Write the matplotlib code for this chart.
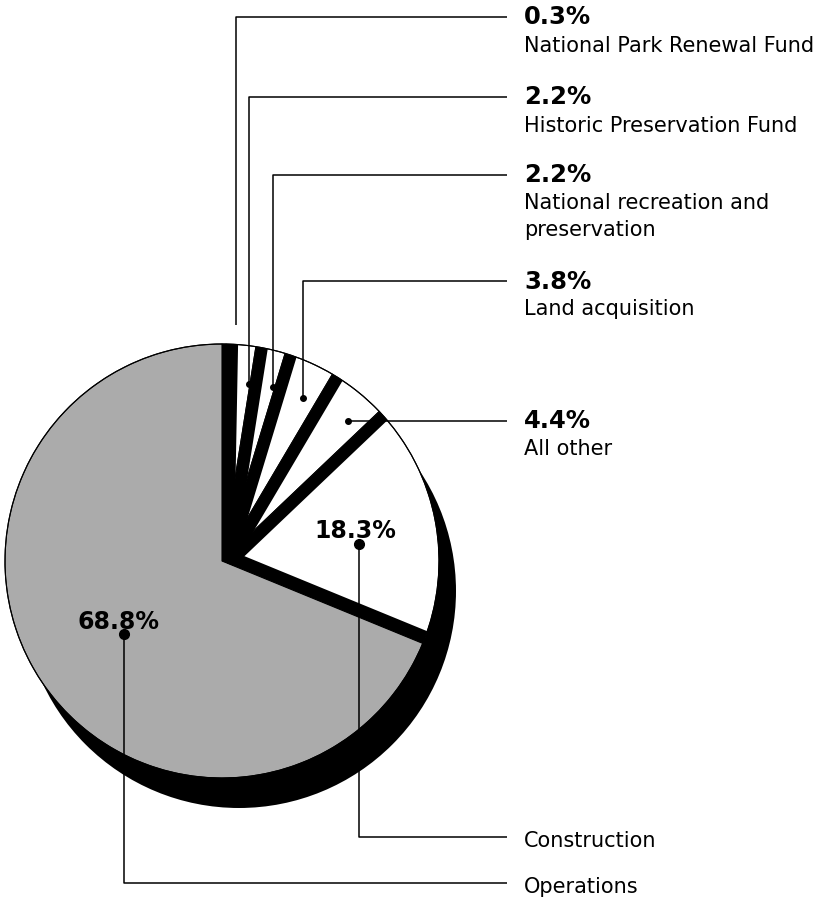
import numpy as np
import matplotlib.pyplot as plt
from matplotlib.patches import Circle, Polygon, Wedge

W, H = 833, 902

# shares of the budget, clockwise from 12 o'clock
shares = [0.3, 2.2, 2.2, 3.8, 4.4, 18.3, 68.8]
pct_labels = ['0.3%', '2.2%', '2.2%', '3.8%', '4.4%', '18.3%', '68.8%']
names = ['National Park Renewal Fund', 'Historic Preservation Fund',
         'National recreation and\npreservation', 'Land acquisition',
         'All other', 'Construction', 'Operations']
colors = ['white'] * 6 + ['#ababab']

plt.rcParams['font.family'] = ['DejaVu Sans']

cx, cy, r = 222, H - 561, 217


def fy(y):
    # pixel row (from top) -> data y
    return H - y


fig = plt.figure(figsize=(W / 100, H / 100), dpi=100)
ax = fig.add_axes([0, 0, 1, 1])

# black "depth" of the pie
ax.add_patch(Circle((cx + 17, cy - 30), r, color='black', lw=0, zorder=0))

wedges, _ = ax.pie(shares, colors=colors, startangle=90, counterclock=False,
                   center=(cx, cy), radius=r,
                   wedgeprops=dict(edgecolor='black', linewidth=0.8,
                                   joinstyle='bevel', zorder=1))

# bands stay inside the white part of the pie
clip = Wedge((cx, cy), r, wedges[5].theta1, wedges[0].theta2,
             transform=ax.transData)


def band(theta, width, side):
    # black strip along a radial edge, side=1 -> clockwise side
    a = np.radians(theta)
    d = np.array([np.cos(a), np.sin(a)])
    n = np.array([np.sin(a), -np.cos(a)]) * side
    c = np.array([cx, cy])
    tip = c + d * (r + 5)
    p = Polygon([c, tip, tip + n * width, c + n * width], closed=True,
                color='black', lw=0, zorder=2)
    ax.add_patch(p)
    p.set_clip_path(clip)


for i in range(6):
    band(wedges[i].theta2, 12, 1)
band(wedges[5].theta1, 13, -1)

ax.add_patch(Circle((cx, cy), r, fill=False, ec='black', lw=0.8, zorder=3))

# leader lines (pixel coords, y from top)
leaders = [
    [(236, 325), (236, 17), (507, 17)],
    [(249, 384), (249, 97), (507, 97)],
    [(273, 387), (273, 175), (507, 175)],
    [(303, 398), (303, 281), (507, 281)],
    [(348, 421), (507, 421)],
    [(359, 544), (359, 837), (507, 837)],
    [(124, 634), (124, 883), (507, 883)],
]
for i, pts in enumerate(leaders):
    xs = [p[0] for p in pts]
    ys = [fy(p[1]) for p in pts]
    ax.plot(xs, ys, color='black', lw=1.1, zorder=4, solid_capstyle='butt')
    if i > 0:
        ms = 7 if i >= 5 else 4
        ax.plot(xs[0], ys[0], 'o', color='black', ms=ms, zorder=5)

# right hand labels
tx = 524
pct_base = [24, 104, 182, 289, 428]
name_base = [52, 132, 209, 315, 455]
for i in range(5):
    ax.text(tx, fy(pct_base[i]), pct_labels[i], fontsize=17.5,
            fontweight='bold', va='baseline', ha='left')
    for j, line in enumerate(names[i].split('\n')):
        ax.text(tx, fy(name_base[i] + 27 * j), line, fontsize=15,
                va='baseline', ha='left')

ax.text(tx, fy(847), names[5], fontsize=15, va='baseline', ha='left')
ax.text(tx, fy(893), names[6], fontsize=15, va='baseline', ha='left')

# labels inside the pie
ax.text(355, fy(538), pct_labels[5], fontsize=17, fontweight='bold',
        va='baseline', ha='center', zorder=6)
ax.text(119, fy(629), pct_labels[6], fontsize=17, fontweight='bold',
        va='baseline', ha='center', zorder=6)

ax.set_xlim(0, W)
ax.set_ylim(0, H)
ax.set_aspect('auto')
ax.axis('off')

fig.savefig('out.png', dpi=100)
